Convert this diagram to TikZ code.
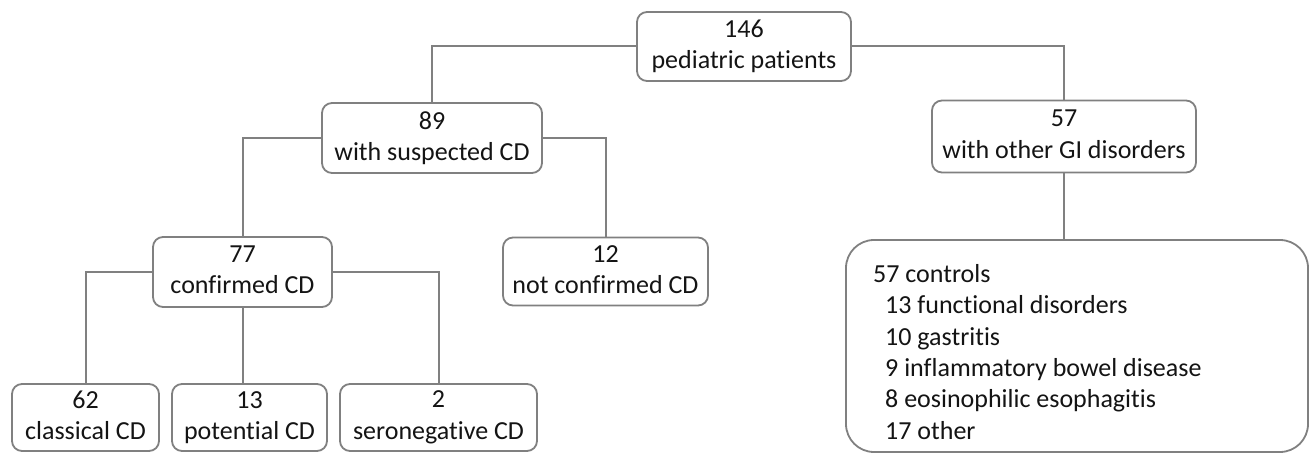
\documentclass[tikz,border=0pt]{standalone}
\usepackage{fontspec}
\setmainfont[Ligatures={NoCommon}]{Carlito}
\definecolor{linegray}{RGB}{128,128,128}
\definecolor{txt}{RGB}{20,20,20}
\begin{document}
\begin{tikzpicture}[x=1pt,y=-1pt,
  box/.style={draw=linegray, line width=1.8pt, rounded corners=10pt, fill=white,
    align=center, inner sep=0pt, text=txt, font=\fontsize{26}{31.5}\selectfont},
  bigbox/.style={draw=linegray, line width=1.8pt, rounded corners=28pt, fill=white, inner sep=0pt},
  listtext/.style={anchor=north west, inner sep=0pt, align=left, text=txt, font=\fontsize{26}{31.4}\selectfont},
  conn/.style={draw=linegray, line width=2pt}]
\useasboundingbox (0,0) rectangle (1312,462);

\node[box, minimum width=214, minimum height=69] (top) at (744,46.5) {\vphantom{Dp}146\\pediatric patients\vphantom{Dp}};
\node[box, minimum width=220, minimum height=70] (n89) at (432,138) {\vphantom{Dp}89\\with suspected CD\vphantom{Dp}};
\node[box, minimum width=264, minimum height=72] (n57) at (1064,136.5) {\vphantom{Dp}57\\with other GI disorders\vphantom{Dp}};
\node[box, minimum width=179, minimum height=70] (n77) at (242.5,272) {\vphantom{Dp}77\\confirmed CD\vphantom{Dp}};
\node[box, minimum width=205, minimum height=68] (n12) at (605.5,271.5) {\vphantom{Dp}12\\not confirmed CD\vphantom{Dp}};
\node[box, minimum width=147, minimum height=67] (n62) at (85.5,417.5) {\vphantom{Dp}62\\classical CD\vphantom{Dp}};
\node[box, minimum width=155, minimum height=67] (n13) at (249.5,417.5) {\vphantom{Dp}13\\potential CD\vphantom{Dp}};
\node[box, minimum width=197, minimum height=67] (n2) at (438.5,417.5) {\vphantom{Dp}2\\seronegative CD\vphantom{Dp}};
\node[bigbox, minimum width=462, minimum height=212] (big) at (1077,346) {};
\node[listtext] (list) at (873,264) {57 controls\\
\hspace*{12pt}13 functional disorders\\
\hspace*{12pt}10 gastritis\\
\hspace*{12pt}9 inflammatory bowel disease\\
\hspace*{12pt}8 eosinophilic esophagitis\\
\hspace*{12pt}17 other};

\draw[conn] (top.west) -| (n89.north);
\draw[conn] (top.east) -| (n57.north);
\draw[conn] (n89.west) -| (n77.north);
\draw[conn] (n89.east) -| (n12.north);
\draw[conn] (n77.west) -| (n62.north);
\draw[conn] (n77.east) -| (n2.north);
\draw[conn] (n77.south) -- (n77.south |- n13.north);
\draw[conn] (n57.south) -- (n57.south |- big.north);
\end{tikzpicture}
\end{document}
